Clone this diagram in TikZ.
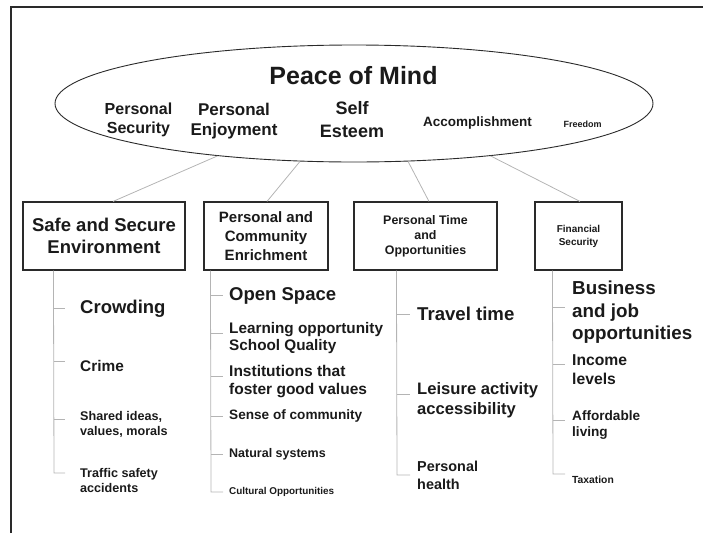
\documentclass[tikz,border=0pt]{standalone}
\usepackage{fontspec}
\setmainfont{Liberation Sans}
\usetikzlibrary{shapes.geometric}
\definecolor{txt}{HTML}{1A1A1A}
\definecolor{frm}{HTML}{2A2A2A}
\definecolor{conn}{HTML}{B4B4B4}
\newcommand\fs[2]{\fontsize{#1}{#2}\selectfont\bfseries}
\begin{document}
\begin{tikzpicture}[x=1pt,y=-1pt,
  lbl/.style={inner sep=0,text=txt,align=center},
  item/.style={inner sep=0,text=txt,align=left,anchor=west},
  catbox/.style={draw=frm,line width=1.1pt,fill=white,inner sep=0,align=center,text=txt,minimum height=68pt},
  link/.style={draw=conn,line width=0.8pt},
]
\useasboundingbox (0,0) rectangle (703,533);
\draw[frm,line width=1.3pt] (11,533) -- (11,7) -- (703,7);

% ellipse
\node[ellipse,draw=frm,line width=0.9pt,minimum width=598pt,minimum height=117pt,inner sep=0] (pm) at (354,103.5) {};
\node[lbl,font=\fs{25}{30}] (t0) at (353.5,76) {Peace of Mind};
\node[lbl,font=\fs{16}{19}] (t1) at (138.5,120) {Personal\\Security};
\node[lbl,font=\fs{17}{20}] (t2) at (234,121) {Personal\\Enjoyment};
\node[lbl,font=\fs{18}{23}] (t3) at (352,120) {Self\\Esteem};
\node[lbl,font=\fs{13.5}{16}] (t4) at (477.5,123) {Accomplishment};
\node[lbl,font=\fs{9}{11}] (t5) at (582.5,124) {Freedom};

% category boxes
\node[catbox,minimum width=162pt,font=\fs{18.5}{22}] (b1) at (104,236) {Safe and Secure\\Environment};
\node[catbox,minimum width=124pt,font=\fs{15}{19}] (b2) at (266,236) {Personal and\\Community\\Enrichment};
\node[catbox,minimum width=143pt,font=\fs{12.4}{15}] (b3) at (425.5,236) {Personal Time\\and\\Opportunities};
\node[catbox,minimum width=87pt,font=\fs{10}{13}] (b4) at (578.5,236) {Financial\\Security};

\draw[link] (pm.201) -- ([xshift=9pt]b1.north);
\draw[link] (pm.227) -- ([xshift=1pt]b2.north);
\draw[link] (pm.313) -- ([xshift=3.5pt]b3.north);
\draw[link] (pm.339) -- ([xshift=1.5pt]b4.north);

% tree 1
\node[item,font=\fs{18.5}{22}] (c11) at (80,309) {Crowding};
\node[item,font=\fs{15.4}{18}] (c12) at (80,366) {Crime};
\node[item,font=\fs{12.6}{15}] (c13) at (80,424.5) {Shared ideas,\\values, morals};
\node[item,font=\fs{12.6}{15}] (c14) at (80,480.5) {Traffic safety\\accidents};
\coordinate (r1) at ([xshift=31pt]b1.south west);
\coordinate (k11) at (54,308);
\coordinate (k12) at (54,361);
\coordinate (k13) at (54,419);
\coordinate (k14) at (54,473);
\draw[link] (r1) -- (k14) -- ([xshift=-15pt]k14 -| c14.west);
\foreach \k/\c in {k11/c11,k12/c12,k13/c13}
  \draw[link] (\k) -- ([xshift=-15pt]\k -| \c.west);

% tree 2
\node[item,font=\fs{18.5}{22}] (c21) at (229,296) {Open Space};
\node[item,font=\fs{15.3}{17}] (c22) at (229,338.5) {Learning opportunity\\School Quality};
\node[item,font=\fs{15.5}{18}] (c23) at (229,382) {Institutions that\\foster good values};
\node[item,font=\fs{13.6}{16}] (c24) at (229,416) {Sense of community};
\node[item,font=\fs{12.5}{15}] (c25) at (229,454) {Natural systems};
\node[item,font=\fs{9.9}{12}] (c26) at (229,492) {Cultural Opportunities};
\coordinate (r2) at ([xshift=7pt]b2.south west);
\coordinate (k21) at (211,295);
\coordinate (k22) at (211,333);
\coordinate (k23) at (211,376);
\coordinate (k24) at (211,416);
\coordinate (k25) at (211,454);
\coordinate (k26) at (211,492);
\draw[link] (r2) -- (k26) -- ([xshift=-6pt]k26 -| c26.west);
\foreach \k/\c in {k21/c21,k22/c22,k23/c23,k24/c24,k25/c25}
  \draw[link] (\k) -- ([xshift=-6pt]\k -| \c.west);

% tree 3
\node[item,font=\fs{18.6}{22}] (c31) at (417,314) {Travel time};
\node[item,font=\fs{16.6}{20}] (c32) at (417,400) {Leisure activity\\accessibility};
\node[item,font=\fs{14.4}{18}] (c33) at (417,475) {Personal\\health};
\coordinate (r3) at ([xshift=43pt]b3.south west);
\coordinate (k31) at (397,314);
\coordinate (k32) at (397,394);
\coordinate (k33) at (397,475);
\draw[link] (r3) -- (k33) -- ([xshift=-7pt]k33 -| c33.west);
\foreach \k/\c in {k31/c31,k32/c32}
  \draw[link] (\k) -- ([xshift=-7pt]\k -| \c.west);

% tree 4
\node[item,font=\fs{18.8}{22.5}] (c41) at (572,312.5) {Business\\and job\\opportunities};
\node[item,font=\fs{15.7}{19}] (c42) at (572,369.5) {Income\\levels};
\node[item,font=\fs{13.6}{16}] (c43) at (572,425) {Affordable\\living};
\node[item,font=\fs{10.3}{12}] (c44) at (572,480) {Taxation};
\coordinate (r4) at ([xshift=18pt]b4.south west);
\coordinate (k41) at (553,307.5);
\coordinate (k42) at (553,364);
\coordinate (k43) at (553,420);
\coordinate (k44) at (553,474);
\draw[link] (r4) -- (k44) -- ([xshift=-7pt]k44 -| c44.west);
\foreach \k/\c in {k41/c41,k42/c42,k43/c43}
  \draw[link] (\k) -- ([xshift=-7pt]\k -| \c.west);
\end{tikzpicture}
\end{document}
